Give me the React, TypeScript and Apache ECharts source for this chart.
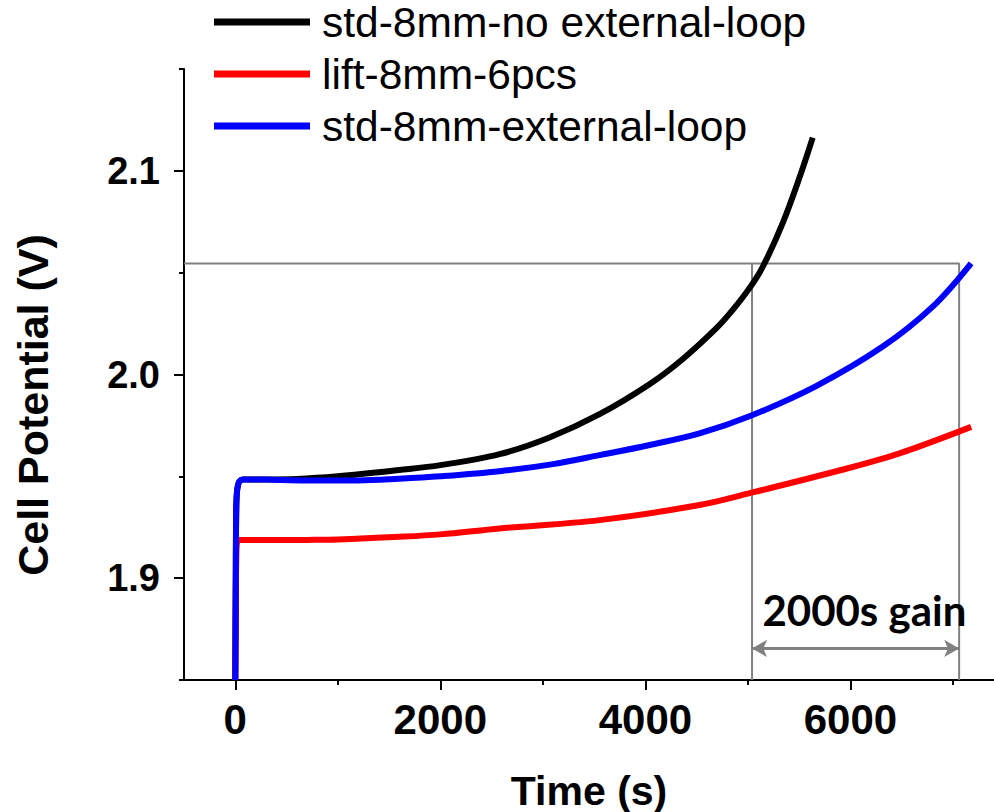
import React, { useEffect, useRef } from 'react';
import * as echarts from 'echarts';

const seriesNames = ['std-8mm-no external-loop', 'lift-8mm-6pcs', 'std-8mm-external-loop'];
const seriesColors = ['#000000', '#ff0000', '#0000ff'];

const blackT = [0, 5, 10, 20, 40, 80, 300, 600, 1000, 1600, 2000, 2578, 3065, 3553, 4040, 4365, 4690, 4852, 5015, 5145, 5340, 5503, 5632];
const blackV = [1.85, 1.9, 1.935, 1.944, 1.9475, 1.9485, 1.9485, 1.9487, 1.95, 1.9531, 1.9555, 1.9609, 1.9691, 1.9805, 1.9952, 2.0076, 2.0226, 2.0317, 2.0424, 2.0529, 2.0745, 2.0967, 2.1163];

const redT = [0, 5, 10, 30, 300, 700, 1000, 1603, 2000, 2578, 3553, 4528, 5000, 5909, 6478, 7177];
const redV = [1.85, 1.88, 1.91, 1.9187, 1.9187, 1.9188, 1.919, 1.9203, 1.9215, 1.9244, 1.9285, 1.9359, 1.9415, 1.9531, 1.9613, 1.9743];

const blueT = [0, 5, 10, 20, 40, 80, 300, 700, 1200, 1600, 2000, 2578, 3100, 3553, 4042, 4528, 5040, 5665, 6315, 6802, 7177];
const blueV = [1.85, 1.9, 1.935, 1.944, 1.9475, 1.9485, 1.9484, 1.948, 1.948, 1.9488, 1.95, 1.9525, 1.956, 1.9604, 1.9654, 1.9711, 1.98, 1.9943, 2.0137, 2.0333, 2.0546];

const xMin = -500;
const xMax = 7400;
const yMin = 1.85;
const yMax = 2.15;
const xMajorTicks = [0, 2000, 4000, 6000];
const xMinorTicks = [1000, 3000, 5000, 7000];
const yMajorTicks = [1.9, 2.0, 2.1];
const yMinorTicks = [1.85, 1.95, 2.05, 2.15];

const guideLevel = 2.0545;
const gainStart = 5040;
const gainEnd = 7060;
const arrowLevel = 1.8655;
const gainLabel = '2000s gain';
const gainLabelT = 6136;
const gainLabelV = 1.8843;

const zip = (t: number[], v: number[]) => t.map((x, i) => [x, v[i]]);

export default function App() {
  const ref = useRef<HTMLDivElement>(null);
  useEffect(() => {
    if (!ref.current) return;
    const chart = echarts.init(ref.current, null, { renderer: 'svg' });
    const gray = '#808080';
    const axisFont = 'Liberation Sans, Arial, sans-serif';
    const curves = [zip(blackT, blackV), zip(redT, redV), zip(blueT, blueV)];
    chart.setOption({
      animation: false,
      backgroundColor: '#ffffff',
      grid: { left: 184, right: 0, top: 69, bottom: 132, outerBoundsMode: 'none', containLabel: false },
      legend: {
        data: seriesNames,
        orient: 'vertical',
        left: 214,
        top: 0,
        icon: 'rect',
        itemWidth: 96,
        itemHeight: 7,
        itemGap: 8,
        padding: 0,
        textStyle: { fontFamily: axisFont, fontSize: 42.5, color: '#000', lineHeight: 44, padding: [0, 0, 0, 7] },
      },
      xAxis: [
        {
          type: 'value', min: xMin, max: xMax, gridIndex: 0, position: 'bottom',
          name: 'Time (s)', nameLocation: 'middle', nameGap: 90,
          nameTextStyle: { fontFamily: axisFont, fontSize: 41, fontWeight: 'bold', color: '#000' },
          axisLine: { show: true, onZero: false, lineStyle: { color: '#000', width: 2 } },
          axisTick: { show: true, customValues: xMajorTicks, length: 10, lineStyle: { color: '#000', width: 2 } },
          axisLabel: { show: true, customValues: xMajorTicks, margin: 18, fontFamily: axisFont, fontSize: 42, fontWeight: 'bold', color: '#000', formatter: (v: number) => String(Math.round(v)) },
          splitLine: { show: false },
        },
        {
          type: 'value', min: xMin, max: xMax, gridIndex: 0, position: 'bottom',
          axisLine: { show: false, onZero: false },
          axisTick: { show: true, customValues: xMinorTicks, length: 5, lineStyle: { color: '#000', width: 2 } },
          axisLabel: { show: false },
          splitLine: { show: false },
        },
      ],
      yAxis: [
        {
          type: 'value', min: yMin, max: yMax, gridIndex: 0, position: 'left',
          name: 'Cell Potential (V)', nameLocation: 'middle', nameGap: 130,
          nameTextStyle: { fontFamily: axisFont, fontSize: 43, fontWeight: 'bold', color: '#000', padding: [0, 61, 0, 0] },
          axisLine: { show: true, onZero: false, lineStyle: { color: '#000', width: 2 } },
          axisTick: { show: true, customValues: yMajorTicks, length: 10, lineStyle: { color: '#000', width: 2 } },
          axisLabel: { show: true, customValues: yMajorTicks, margin: 24, fontFamily: axisFont, fontSize: 38, fontWeight: 'bold', color: '#000', formatter: (v: number) => v.toFixed(1) },
          splitLine: { show: false },
        },
        {
          type: 'value', min: yMin, max: yMax, gridIndex: 0, position: 'left',
          axisLine: { show: false, onZero: false },
          axisTick: { show: true, customValues: yMinorTicks, length: 5, lineStyle: { color: '#000', width: 2 } },
          axisLabel: { show: false },
          splitLine: { show: false },
        },
      ],
      series: [
        {
          name: 'guide-h', type: 'line', data: [[xMin, guideLevel], [gainEnd, guideLevel], [gainEnd, yMin]],
          symbol: 'none', lineStyle: { color: gray, width: 2 }, itemStyle: { color: gray }, silent: true, z: 1,
        },
        {
          name: 'guide-v', type: 'line', data: [[gainStart, guideLevel], [gainStart, yMin]],
          symbol: 'none', lineStyle: { color: gray, width: 2 }, itemStyle: { color: gray }, silent: true, z: 1,
          markLine: {
            silent: true, symbol: ['arrow', 'arrow'], symbolSize: [13, 15],
            lineStyle: { color: gray, width: 3, type: 'solid' }, label: { show: false },
            data: [[{ coord: [gainStart, arrowLevel] }, { coord: [gainEnd, arrowLevel] }]],
          },
        },
        ...seriesNames.map((name, i) => ({
          name, type: 'line', data: curves[i], symbol: 'none', showSymbol: false,
          smooth: 0.35,
          lineStyle: { color: seriesColors[i], width: 6 }, itemStyle: { color: seriesColors[i] }, z: 3,
        })),
        {
          name: 'gain-label', type: 'scatter', data: [[gainLabelT, gainLabelV]], symbolSize: 0, silent: true, z: 4,
          itemStyle: { opacity: 1, color: '#000' },
          label: { show: true, position: 'inside', opacity: 1, formatter: gainLabel, fontFamily: 'Lato, Open Sans, sans-serif', fontWeight: 'bold', fontSize: 42, color: '#000', textBorderWidth: 0 },
        },
      ],
    });
    return () => chart.dispose();
  }, []);
  return <div ref={ref} style={{ position: 'fixed', left: 0, top: 0, width: 994, height: 812, background: '#fff' }} />;
}
